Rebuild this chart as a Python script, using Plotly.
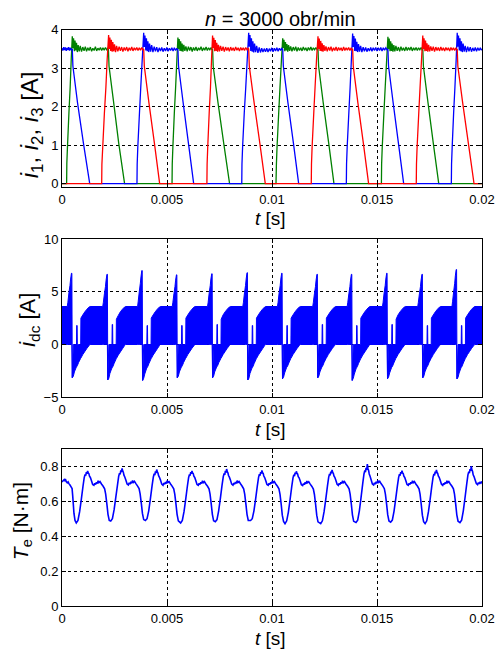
import plotly.graph_objects as go

# ---------------- data ----------------
X_TICKS = [0, 0.005, 0.01, 0.015, 0.02]
X_TICK_TEXT = ["0", "0.005", "0.01", "0.015", "0.02"]
Y1_TICKS = [0, 1, 2, 3, 4]
Y2_TICKS = [-5, 0, 5, 10]
Y3_TICKS = [0, 0.2, 0.4, 0.6, 0.8]
Y3_TICK_TEXT = ["0", "0.2", "0.4", "0.6", "0.8"]

# phase current i2 (green): (t [s], i [A])
GREEN_I = [
    (0.0, 0.0), (0.00022, 0.0),
    (0.00023, 0.52), (0.00026, 0.95), (0.00033, 1.84), (0.00039, 2.52), (0.00044, 3.24), (0.00049, 3.83),
    (0.00052, 3.52), (0.00055, 3.78), (0.00059, 3.44), (0.00062, 3.72), (0.00066, 3.46), (0.00069, 3.66),
    (0.00073, 3.42), (0.00077, 3.6), (0.00082, 3.44), (0.00087, 3.58), (0.00093, 3.43), (0.00099, 3.55),
    (0.00105, 3.45), (0.00111, 3.56), (0.00117, 3.44), (0.00123, 3.53), (0.00129, 3.46), (0.00135, 3.55),
    (0.00141, 3.44), (0.00147, 3.52), (0.00153, 3.46), (0.00159, 3.56), (0.00165, 3.45), (0.00171, 3.52),
    (0.00177, 3.47), (0.00183, 3.54), (0.00189, 3.46), (0.00195, 3.53), (0.00201, 3.47), (0.00207, 3.54),
    (0.00213, 3.48), (0.00218, 3.52), (0.00221, 3.50),
    (0.00224, 3.05), (0.00245, 2.15), (0.00270, 1.05), (0.00298, 0.0),
    (0.00524, 0.0),
    (0.00525, 0.5), (0.00528, 0.95), (0.00535, 1.85), (0.00541, 2.5), (0.00547, 3.22), (0.00552, 3.80),
    (0.00555, 3.5), (0.00558, 3.76), (0.00562, 3.45), (0.00565, 3.7), (0.00569, 3.44), (0.00572, 3.64),
    (0.00576, 3.43), (0.00580, 3.61), (0.00585, 3.45), (0.00590, 3.57), (0.00596, 3.44), (0.00602, 3.56),
    (0.00608, 3.46), (0.00614, 3.55), (0.00620, 3.43), (0.00626, 3.54), (0.00632, 3.46), (0.00638, 3.55),
    (0.00644, 3.45), (0.00650, 3.53), (0.00656, 3.47), (0.00662, 3.56), (0.00668, 3.45), (0.00674, 3.53),
    (0.00680, 3.47), (0.00686, 3.55), (0.00692, 3.46), (0.00698, 3.53), (0.00704, 3.48), (0.00710, 3.54),
    (0.00714, 3.48), (0.00717, 3.50),
    (0.00720, 3.05), (0.00743, 2.1), (0.00770, 1.05), (0.00798, 0.0),
    (0.01019, 0.0),
    (0.01021, 0.5), (0.01024, 0.95), (0.01032, 1.85), (0.01038, 2.5), (0.01045, 3.22), (0.01051, 3.78),
    (0.01054, 3.52), (0.01057, 3.74), (0.01061, 3.44), (0.01064, 3.68), (0.01068, 3.46), (0.01071, 3.63),
    (0.01075, 3.43), (0.01079, 3.6), (0.01084, 3.45), (0.01089, 3.57), (0.01095, 3.44), (0.01101, 3.55),
    (0.01107, 3.46), (0.01113, 3.56), (0.01119, 3.44), (0.01125, 3.54), (0.01131, 3.46), (0.01137, 3.53),
    (0.01143, 3.45), (0.01149, 3.55), (0.01155, 3.47), (0.01161, 3.53), (0.01167, 3.45), (0.01173, 3.54),
    (0.01179, 3.47), (0.01185, 3.55), (0.01191, 3.46), (0.01197, 3.53), (0.01203, 3.48), (0.01209, 3.54),
    (0.01215, 3.48), (0.01219, 3.50),
    (0.01222, 3.05), (0.01244, 2.1), (0.01270, 1.05), (0.01295, 0.0),
    (0.01521, 0.0),
    (0.01522, 0.5), (0.01525, 0.95), (0.01533, 1.85), (0.01539, 2.5), (0.01546, 3.22), (0.01552, 3.82),
    (0.01555, 3.5), (0.01558, 3.77), (0.01562, 3.44), (0.01565, 3.7), (0.01569, 3.45), (0.01572, 3.64),
    (0.01576, 3.43), (0.01580, 3.6), (0.01585, 3.44), (0.01590, 3.58), (0.01596, 3.45), (0.01602, 3.55),
    (0.01608, 3.44), (0.01614, 3.56), (0.01620, 3.46), (0.01626, 3.53), (0.01632, 3.45), (0.01638, 3.55),
    (0.01644, 3.46), (0.01650, 3.54), (0.01656, 3.47), (0.01662, 3.55), (0.01668, 3.45), (0.01674, 3.53),
    (0.01680, 3.47), (0.01686, 3.54), (0.01692, 3.46), (0.01698, 3.53), (0.01704, 3.48), (0.01710, 3.54),
    (0.01715, 3.48), (0.01718, 3.50),
    (0.01721, 3.05), (0.01743, 2.1), (0.01768, 1.05), (0.01794, 0.0),
    (0.02, 0.0),
]

# phase current i3 (red)
RED_I = [
    (0.0, 0.0), (0.00189, 0.0),
    (0.00190, 0.5), (0.00194, 0.95), (0.00202, 1.85), (0.00209, 2.5), (0.00215, 3.22), (0.00222, 3.86),
    (0.00225, 3.5), (0.00228, 3.8), (0.00232, 3.45), (0.00235, 3.74), (0.00239, 3.43), (0.00242, 3.68),
    (0.00246, 3.44), (0.00250, 3.62), (0.00255, 3.42), (0.00260, 3.58), (0.00266, 3.44), (0.00272, 3.56),
    (0.00278, 3.45), (0.00284, 3.55), (0.00290, 3.43), (0.00296, 3.54), (0.00302, 3.46), (0.00308, 3.55),
    (0.00314, 3.44), (0.00320, 3.53), (0.00326, 3.46), (0.00332, 3.55), (0.00338, 3.45), (0.00344, 3.53),
    (0.00350, 3.47), (0.00356, 3.54), (0.00362, 3.46), (0.00368, 3.53), (0.00374, 3.47), (0.00380, 3.54),
    (0.00385, 3.48), (0.00389, 3.50),
    (0.00392, 3.05), (0.00414, 2.1), (0.00440, 1.05), (0.00465, 0.0),
    (0.00690, 0.0),
    (0.00691, 0.5), (0.00694, 0.95), (0.00701, 1.85), (0.00707, 2.5), (0.00712, 3.22), (0.00717, 3.85),
    (0.00720, 3.52), (0.00723, 3.79), (0.00727, 3.44), (0.00730, 3.73), (0.00734, 3.45), (0.00737, 3.66),
    (0.00741, 3.43), (0.00745, 3.61), (0.00750, 3.44), (0.00755, 3.58), (0.00761, 3.45), (0.00767, 3.56),
    (0.00773, 3.43), (0.00779, 3.55), (0.00785, 3.46), (0.00791, 3.54), (0.00797, 3.44), (0.00803, 3.55),
    (0.00809, 3.46), (0.00815, 3.53), (0.00821, 3.45), (0.00827, 3.55), (0.00833, 3.47), (0.00839, 3.53),
    (0.00845, 3.45), (0.00851, 3.54), (0.00857, 3.47), (0.00863, 3.53), (0.00869, 3.46), (0.00875, 3.54),
    (0.00881, 3.48), (0.00886, 3.52), (0.00889, 3.50),
    (0.00892, 3.05), (0.00915, 2.1), (0.00942, 1.05), (0.00968, 0.0),
    (0.01187, 0.0),
    (0.01188, 0.5), (0.01191, 0.95), (0.01199, 1.85), (0.01205, 2.5), (0.01212, 3.22), (0.01219, 3.83),
    (0.01222, 3.5), (0.01225, 3.77), (0.01229, 3.45), (0.01232, 3.71), (0.01236, 3.44), (0.01239, 3.65),
    (0.01243, 3.43), (0.01247, 3.6), (0.01252, 3.45), (0.01257, 3.57), (0.01263, 3.44), (0.01269, 3.55),
    (0.01275, 3.46), (0.01281, 3.56), (0.01287, 3.44), (0.01293, 3.53), (0.01299, 3.46), (0.01305, 3.55),
    (0.01311, 3.45), (0.01317, 3.54), (0.01323, 3.47), (0.01329, 3.53), (0.01335, 3.45), (0.01341, 3.55),
    (0.01347, 3.46), (0.01353, 3.53), (0.01359, 3.47), (0.01365, 3.54), (0.01371, 3.46), (0.01377, 3.53),
    (0.01381, 3.48), (0.01384, 3.50),
    (0.01387, 3.05), (0.01409, 2.1), (0.01435, 1.05), (0.01460, 0.0),
    (0.01687, 0.0),
    (0.01688, 0.5), (0.01691, 0.95), (0.01699, 1.85), (0.01705, 2.5), (0.01712, 3.22), (0.01718, 3.85),
    (0.01721, 3.5), (0.01724, 3.78), (0.01728, 3.44), (0.01731, 3.72), (0.01735, 3.45), (0.01738, 3.65),
    (0.01742, 3.43), (0.01746, 3.61), (0.01751, 3.44), (0.01756, 3.57), (0.01762, 3.45), (0.01768, 3.56),
    (0.01774, 3.43), (0.01780, 3.55), (0.01786, 3.46), (0.01792, 3.54), (0.01798, 3.45), (0.01804, 3.55),
    (0.01810, 3.46), (0.01816, 3.53), (0.01822, 3.45), (0.01828, 3.54), (0.01834, 3.47), (0.01840, 3.53),
    (0.01846, 3.45), (0.01852, 3.54), (0.01858, 3.47), (0.01864, 3.53), (0.01870, 3.46), (0.01876, 3.53),
    (0.01880, 3.48), (0.01882, 3.50),
    (0.01885, 3.05), (0.01908, 2.1), (0.01935, 1.05), (0.01962, 0.0),
    (0.02, 0.0),
]

# phase current i1 (blue)
BLUE_I = [
    (0.0, 3.52), (0.00004, 3.46), (0.00008, 3.55), (0.00012, 3.47), (0.00016, 3.54), (0.00020, 3.45),
    (0.00024, 3.53), (0.00028, 3.47), (0.00032, 3.55), (0.00036, 3.46), (0.00040, 3.53), (0.00044, 3.48),
    (0.00049, 3.50),
    (0.00052, 3.05), (0.00074, 2.1), (0.00102, 1.05), (0.00132, 0.0),
    (0.00357, 0.0),
    (0.00358, 0.5), (0.00361, 0.95), (0.00369, 1.85), (0.00375, 2.5), (0.00382, 3.22), (0.00389, 3.92),
    (0.00392, 3.55), (0.00395, 3.85), (0.00399, 3.46), (0.00402, 3.78), (0.00406, 3.44), (0.00409, 3.7),
    (0.00413, 3.42), (0.00417, 3.64), (0.00422, 3.43), (0.00427, 3.6), (0.00433, 3.42), (0.00439, 3.56),
    (0.00445, 3.44), (0.00451, 3.55), (0.00457, 3.42), (0.00463, 3.53), (0.00469, 3.45), (0.00475, 3.54),
    (0.00481, 3.43), (0.00487, 3.52), (0.00493, 3.45), (0.00499, 3.54), (0.00505, 3.44), (0.00511, 3.52),
    (0.00517, 3.46), (0.00523, 3.53), (0.00529, 3.45), (0.00535, 3.53), (0.00541, 3.46), (0.00547, 3.52),
    (0.00550, 3.48), (0.00552, 3.50),
    (0.00555, 3.05), (0.00577, 2.1), (0.00602, 1.05), (0.00627, 0.0),
    (0.00856, 0.0),
    (0.00857, 0.5), (0.00860, 0.95), (0.00868, 1.85), (0.00875, 2.5), (0.00882, 3.22), (0.00889, 3.92),
    (0.00892, 3.56), (0.00895, 3.86), (0.00899, 3.45), (0.00902, 3.78), (0.00906, 3.43), (0.00909, 3.7),
    (0.00913, 3.41), (0.00917, 3.64), (0.00922, 3.42), (0.00927, 3.58), (0.00933, 3.40), (0.00939, 3.54),
    (0.00945, 3.41), (0.00951, 3.52), (0.00957, 3.42), (0.00963, 3.51), (0.00969, 3.43), (0.00975, 3.52),
    (0.00981, 3.42), (0.00987, 3.51), (0.00993, 3.44), (0.00999, 3.53), (0.01005, 3.43), (0.01011, 3.52),
    (0.01017, 3.45), (0.01023, 3.53), (0.01029, 3.44), (0.01035, 3.52), (0.01041, 3.46), (0.01047, 3.53),
    (0.01049, 3.48), (0.01051, 3.50),
    (0.01054, 3.05), (0.01076, 2.1), (0.01102, 1.05), (0.01127, 0.0),
    (0.01354, 0.0),
    (0.01355, 0.5), (0.01358, 0.95), (0.01366, 1.85), (0.01372, 2.5), (0.01378, 3.22), (0.01384, 3.9),
    (0.01387, 3.55), (0.01390, 3.84), (0.01394, 3.45), (0.01397, 3.77), (0.01401, 3.44), (0.01404, 3.69),
    (0.01408, 3.42), (0.01412, 3.63), (0.01417, 3.43), (0.01422, 3.58), (0.01428, 3.42), (0.01434, 3.55),
    (0.01440, 3.44), (0.01446, 3.54), (0.01452, 3.43), (0.01458, 3.52), (0.01464, 3.45), (0.01470, 3.54),
    (0.01476, 3.44), (0.01482, 3.53), (0.01488, 3.46), (0.01494, 3.54), (0.01500, 3.45), (0.01506, 3.53),
    (0.01512, 3.46), (0.01518, 3.54), (0.01524, 3.45), (0.01530, 3.53), (0.01536, 3.47), (0.01542, 3.53),
    (0.01548, 3.48), (0.01552, 3.50),
    (0.01555, 3.05), (0.01577, 2.1), (0.01602, 1.05), (0.01627, 0.0),
    (0.01854, 0.0),
    (0.01855, 0.5), (0.01858, 0.95), (0.01865, 1.85), (0.01871, 2.5), (0.01877, 3.22), (0.01882, 3.92),
    (0.01885, 3.56), (0.01888, 3.85), (0.01892, 3.46), (0.01895, 3.78), (0.01899, 3.44), (0.01902, 3.7),
    (0.01906, 3.42), (0.01910, 3.64), (0.01915, 3.43), (0.01920, 3.58), (0.01926, 3.42), (0.01932, 3.56),
    (0.01938, 3.44), (0.01944, 3.55), (0.01950, 3.43), (0.01956, 3.53), (0.01962, 3.45), (0.01968, 3.54),
    (0.01974, 3.44), (0.01980, 3.53), (0.01986, 3.46), (0.01992, 3.53), (0.01996, 3.47), (0.02, 3.50),
]

# DC-link current: PWM band, (t [s], lower edge [A], upper edge [A])
IDC_BAND = [
    (0.0, 0, 3.6),
    (0.00025, 0, 3.6), (0.00028, 0, 4.0), (0.00033, 0, 4.9), (0.00038, 0, 5.6), (0.00041, 0, 6.2),
    (0.00045, 0, 6.75), (0.00047, 0, 6.75), (0.00049, -3.15, -3.15), (0.00054, -3.0, 0), (0.00059, -2.6, 0),
    (0.00069, -2.1, 0), (0.00070, -2.1, 1.8), (0.00072, -2.05, 1.8), (0.00073, -2.0, 0), (0.00079, -1.7, 0),
    (0.00089, -1.3, 0), (0.00090, -1.28, 2.5), (0.00099, -0.95, 2.8), (0.00109, -0.65, 3.1),
    (0.00119, -0.35, 3.35), (0.00129, -0.1, 3.55), (0.00134, 0, 3.6),
    (0.00194, 0, 3.6), (0.00197, 0, 4.0), (0.00202, 0, 4.8), (0.00207, 0, 5.5), (0.00210, 0, 6.1),
    (0.00214, 0, 6.65), (0.00216, 0, 6.65), (0.00218, -3.35, -3.35), (0.00223, -3.2, 0), (0.00228, -2.75, 0),
    (0.00238, -2.2, 0), (0.00239, -2.2, 1.9), (0.00241, -2.15, 1.9), (0.00242, -2.1, 0), (0.00248, -1.8, 0),
    (0.00258, -1.35, 0), (0.00259, -1.33, 2.4), (0.00268, -1.0, 2.75), (0.00278, -0.7, 3.1),
    (0.00288, -0.4, 3.35), (0.00298, -0.1, 3.55), (0.00303, 0, 3.6),
    (0.00360, 0, 3.6), (0.00363, 0, 4.1), (0.00368, 0, 5.0), (0.00373, 0, 5.8), (0.00376, 0, 6.4),
    (0.00380, 0, 7.0), (0.00382, 0, 7.0), (0.00384, -3.4, -3.4), (0.00389, -3.2, 0), (0.00394, -2.8, 0),
    (0.00404, -2.2, 0), (0.00405, -2.2, 1.8), (0.00407, -2.15, 1.8), (0.00408, -2.1, 0), (0.00414, -1.8, 0),
    (0.00424, -1.35, 0), (0.00425, -1.33, 2.5), (0.00434, -1.0, 2.8), (0.00444, -0.7, 3.1),
    (0.00454, -0.4, 3.35), (0.00464, -0.1, 3.55), (0.00469, 0, 3.6),
    (0.00525, 0, 3.6), (0.00528, 0, 4.0), (0.00533, 0, 4.8), (0.00538, 0, 5.5), (0.00541, 0, 6.1),
    (0.00545, 0, 6.6), (0.00547, 0, 6.6), (0.00549, -3.15, -3.15), (0.00554, -3.0, 0), (0.00559, -2.6, 0),
    (0.00569, -2.1, 0), (0.00570, -2.1, 1.8), (0.00572, -2.05, 1.8), (0.00573, -2.0, 0), (0.00579, -1.7, 0),
    (0.00589, -1.3, 0), (0.00590, -1.28, 2.5), (0.00599, -0.95, 2.8), (0.00609, -0.65, 3.1),
    (0.00619, -0.35, 3.35), (0.00629, -0.1, 3.55), (0.00634, 0, 3.6),
    (0.00693, 0, 3.6), (0.00696, 0, 4.0), (0.00701, 0, 4.9), (0.00706, 0, 5.6), (0.00709, 0, 6.2),
    (0.00713, 0, 6.7), (0.00715, 0, 6.7), (0.00717, -3.15, -3.15), (0.00722, -3.0, 0), (0.00727, -2.6, 0),
    (0.00737, -2.1, 0), (0.00738, -2.1, 1.9), (0.00740, -2.05, 1.9), (0.00741, -2.0, 0), (0.00747, -1.7, 0),
    (0.00757, -1.3, 0), (0.00758, -1.28, 2.4), (0.00767, -0.95, 2.8), (0.00777, -0.65, 3.1),
    (0.00787, -0.35, 3.35), (0.00797, -0.1, 3.55), (0.00802, 0, 3.6),
    (0.00861, 0, 3.6), (0.00864, 0, 4.0), (0.00869, 0, 4.9), (0.00874, 0, 5.6), (0.00877, 0, 6.2),
    (0.00881, 0, 6.8), (0.00883, 0, 6.8), (0.00885, -3.35, -3.35), (0.00890, -3.2, 0), (0.00895, -2.75, 0),
    (0.00905, -2.2, 0), (0.00906, -2.2, 1.8), (0.00908, -2.15, 1.8), (0.00909, -2.1, 0), (0.00915, -1.8, 0),
    (0.00925, -1.35, 0), (0.00926, -1.33, 2.5), (0.00935, -1.0, 2.8), (0.00945, -0.7, 3.1),
    (0.00955, -0.4, 3.35), (0.00965, -0.1, 3.55), (0.00970, 0, 3.6),
    (0.01026, 0, 3.6), (0.01029, 0, 4.0), (0.01034, 0, 4.9), (0.01039, 0, 5.6), (0.01042, 0, 6.2),
    (0.01046, 0, 6.75), (0.01048, 0, 6.75), (0.01050, -3.25, -3.25), (0.01055, -3.1, 0), (0.01060, -2.7, 0),
    (0.01070, -2.15, 0), (0.01071, -2.15, 1.8), (0.01073, -2.1, 1.8), (0.01074, -2.05, 0), (0.01080, -1.75, 0),
    (0.01090, -1.3, 0), (0.01091, -1.28, 2.5), (0.01100, -0.95, 2.8), (0.01110, -0.65, 3.1),
    (0.01120, -0.35, 3.35), (0.01130, -0.1, 3.55), (0.01135, 0, 3.6),
    (0.01194, 0, 3.6), (0.01197, 0, 4.0), (0.01202, 0, 4.8), (0.01207, 0, 5.5), (0.01210, 0, 6.1),
    (0.01214, 0, 6.65), (0.01216, 0, 6.65), (0.01218, -3.15, -3.15), (0.01223, -3.0, 0), (0.01228, -2.6, 0),
    (0.01238, -2.1, 0), (0.01239, -2.1, 1.9), (0.01241, -2.05, 1.9), (0.01242, -2.0, 0), (0.01248, -1.7, 0),
    (0.01258, -1.3, 0), (0.01259, -1.28, 2.5), (0.01268, -0.95, 2.8), (0.01278, -0.65, 3.1),
    (0.01288, -0.35, 3.35), (0.01298, -0.1, 3.55), (0.01303, 0, 3.6),
    (0.01358, 0, 3.6), (0.01361, 0, 4.0), (0.01366, 0, 4.8), (0.01371, 0, 5.5), (0.01374, 0, 6.1),
    (0.01378, 0, 6.65), (0.01380, 0, 6.65), (0.01382, -3.4, -3.4), (0.01387, -3.2, 0), (0.01392, -2.8, 0),
    (0.01402, -2.2, 0), (0.01403, -2.2, 1.8), (0.01405, -2.15, 1.8), (0.01406, -2.1, 0), (0.01412, -1.8, 0),
    (0.01422, -1.35, 0), (0.01423, -1.33, 2.5), (0.01432, -1.0, 2.8), (0.01442, -0.7, 3.1),
    (0.01452, -0.4, 3.35), (0.01462, -0.1, 3.55), (0.01467, 0, 3.6),
    (0.01526, 0, 3.6), (0.01529, 0, 4.0), (0.01534, 0, 4.9), (0.01539, 0, 5.6), (0.01542, 0, 6.2),
    (0.01546, 0, 6.75), (0.01548, 0, 6.75), (0.01550, -3.25, -3.25), (0.01555, -3.1, 0), (0.01560, -2.7, 0),
    (0.01570, -2.15, 0), (0.01571, -2.15, 1.9), (0.01573, -2.1, 1.9), (0.01574, -2.05, 0), (0.01580, -1.75, 0),
    (0.01590, -1.3, 0), (0.01591, -1.28, 2.4), (0.01600, -0.95, 2.8), (0.01610, -0.65, 3.1),
    (0.01620, -0.35, 3.35), (0.01630, -0.1, 3.55), (0.01635, 0, 3.6),
    (0.01694, 0, 3.6), (0.01697, 0, 4.0), (0.01702, 0, 4.8), (0.01707, 0, 5.5), (0.01710, 0, 6.1),
    (0.01714, 0, 6.65), (0.01716, 0, 6.65), (0.01718, -3.15, -3.15), (0.01723, -3.0, 0), (0.01728, -2.6, 0),
    (0.01738, -2.1, 0), (0.01739, -2.1, 1.8), (0.01741, -2.05, 1.8), (0.01742, -2.0, 0), (0.01748, -1.7, 0),
    (0.01758, -1.3, 0), (0.01759, -1.28, 2.5), (0.01768, -0.95, 2.8), (0.01778, -0.65, 3.1),
    (0.01788, -0.35, 3.35), (0.01798, -0.1, 3.55), (0.01803, 0, 3.6),
    (0.01857, 0, 3.6), (0.01860, 0, 4.1), (0.01865, 0, 5.0), (0.01870, 0, 5.8), (0.01873, 0, 6.5),
    (0.01877, 0, 7.1), (0.01879, 0, 7.1), (0.01881, -3.25, -3.25), (0.01886, -3.1, 0), (0.01891, -2.7, 0),
    (0.01901, -2.15, 0), (0.01902, -2.15, 1.8), (0.01904, -2.1, 1.8), (0.01905, -2.05, 0), (0.01911, -1.75, 0),
    (0.01921, -1.3, 0), (0.01922, -1.28, 2.5), (0.01931, -0.95, 2.8), (0.01941, -0.65, 3.1),
    (0.01951, -0.35, 3.35), (0.01961, -0.1, 3.55), (0.01966, 0, 3.6),
    (0.02, 0, 3.6),
]

# electromagnetic torque Te: (t [s], Te [N·m])
TORQUE = [
    (0.0, 0.709), (5e-5, 0.716), (10e-5, 0.722), (13e-5, 0.714), (16e-5, 0.727), (20e-5, 0.712),
    (25e-5, 0.705), (29e-5, 0.71), (33e-5, 0.70), (38e-5, 0.692), (44e-5, 0.68), (48e-5, 0.672),
    (51e-5, 0.63), (54e-5, 0.58), (57e-5, 0.53), (62e-5, 0.49),
    (68e-5, 0.476), (76e-5, 0.49), (84e-5, 0.54), (92e-5, 0.61), (100e-5, 0.685), (106e-5, 0.735),
    (110e-5, 0.752), (113e-5, 0.745), (116e-5, 0.765), (119e-5, 0.756), (122e-5, 0.772), (125e-5, 0.76),
    (128e-5, 0.757), (131e-5, 0.742), (135e-5, 0.735), (140e-5, 0.718), (146e-5, 0.695), (152e-5, 0.69),
    (156e-5, 0.702), (160e-5, 0.695), (164e-5, 0.708), (168e-5, 0.70), (172e-5, 0.716), (176e-5, 0.706),
    (181e-5, 0.712), (188e-5, 0.698), (196e-5, 0.685), (203e-5, 0.67), (208e-5, 0.64), (214e-5, 0.58),
    (219e-5, 0.525), (225e-5, 0.49),
    (232e-5, 0.487), (240e-5, 0.5), (248e-5, 0.55), (256e-5, 0.62), (264e-5, 0.69), (270e-5, 0.742),
    (274e-5, 0.76), (277e-5, 0.752), (280e-5, 0.775), (283e-5, 0.765), (286e-5, 0.787), (289e-5, 0.772),
    (292e-5, 0.765), (295e-5, 0.748), (299e-5, 0.738), (304e-5, 0.72), (310e-5, 0.698), (316e-5, 0.692),
    (320e-5, 0.705), (324e-5, 0.697), (328e-5, 0.71), (332e-5, 0.702), (336e-5, 0.718), (340e-5, 0.707),
    (345e-5, 0.713), (352e-5, 0.7), (360e-5, 0.686), (367e-5, 0.672), (372e-5, 0.642), (378e-5, 0.585),
    (383e-5, 0.53), (389e-5, 0.495),
    (397e-5, 0.49), (405e-5, 0.5), (413e-5, 0.545), (421e-5, 0.615), (429e-5, 0.688), (435e-5, 0.738),
    (439e-5, 0.756), (442e-5, 0.748), (445e-5, 0.77), (448e-5, 0.76), (451e-5, 0.78), (454e-5, 0.766),
    (457e-5, 0.76), (460e-5, 0.745), (464e-5, 0.736), (469e-5, 0.72), (475e-5, 0.697), (481e-5, 0.69),
    (485e-5, 0.703), (489e-5, 0.696), (493e-5, 0.709), (497e-5, 0.7), (501e-5, 0.717), (505e-5, 0.706),
    (510e-5, 0.711), (517e-5, 0.698), (525e-5, 0.684), (532e-5, 0.67), (537e-5, 0.64), (543e-5, 0.58),
    (548e-5, 0.525), (554e-5, 0.488),
    (565e-5, 0.476), (573e-5, 0.49), (581e-5, 0.54), (589e-5, 0.61), (597e-5, 0.685), (603e-5, 0.735),
    (607e-5, 0.752), (610e-5, 0.745), (613e-5, 0.765), (616e-5, 0.756), (619e-5, 0.772), (622e-5, 0.76),
    (625e-5, 0.757), (628e-5, 0.742), (632e-5, 0.735), (637e-5, 0.718), (643e-5, 0.695), (649e-5, 0.69),
    (653e-5, 0.702), (657e-5, 0.695), (661e-5, 0.708), (665e-5, 0.70), (669e-5, 0.716), (673e-5, 0.706),
    (678e-5, 0.712), (685e-5, 0.698), (693e-5, 0.685), (700e-5, 0.67), (705e-5, 0.64), (711e-5, 0.58),
    (716e-5, 0.525), (722e-5, 0.488),
    (730e-5, 0.483), (738e-5, 0.495), (746e-5, 0.545), (754e-5, 0.615), (762e-5, 0.69), (768e-5, 0.74),
    (772e-5, 0.758), (775e-5, 0.75), (778e-5, 0.772), (781e-5, 0.762), (784e-5, 0.783), (787e-5, 0.768),
    (790e-5, 0.762), (793e-5, 0.746), (797e-5, 0.737), (802e-5, 0.72), (808e-5, 0.697), (814e-5, 0.691),
    (818e-5, 0.703), (822e-5, 0.696), (826e-5, 0.709), (830e-5, 0.701), (834e-5, 0.717), (838e-5, 0.707),
    (843e-5, 0.712), (850e-5, 0.699), (858e-5, 0.685), (865e-5, 0.67), (870e-5, 0.64), (876e-5, 0.58),
    (881e-5, 0.525), (887e-5, 0.49),
    (898e-5, 0.49), (906e-5, 0.5), (914e-5, 0.545), (922e-5, 0.612), (930e-5, 0.686), (936e-5, 0.736),
    (940e-5, 0.753), (943e-5, 0.746), (946e-5, 0.766), (949e-5, 0.757), (952e-5, 0.775), (955e-5, 0.762),
    (958e-5, 0.758), (961e-5, 0.743), (965e-5, 0.735), (970e-5, 0.718), (976e-5, 0.695), (982e-5, 0.69),
    (986e-5, 0.702), (990e-5, 0.695), (994e-5, 0.708), (998e-5, 0.70), (1002e-5, 0.716), (1006e-5, 0.706),
    (1011e-5, 0.712), (1018e-5, 0.698), (1026e-5, 0.685), (1033e-5, 0.67), (1038e-5, 0.64), (1044e-5, 0.58),
    (1049e-5, 0.52), (1055e-5, 0.485),
    (1062e-5, 0.472), (1070e-5, 0.488), (1078e-5, 0.538), (1086e-5, 0.608), (1094e-5, 0.683), (1100e-5, 0.733),
    (1104e-5, 0.75), (1107e-5, 0.743), (1110e-5, 0.762), (1113e-5, 0.754), (1116e-5, 0.77), (1119e-5, 0.758),
    (1122e-5, 0.755), (1125e-5, 0.74), (1129e-5, 0.733), (1134e-5, 0.716), (1140e-5, 0.694), (1146e-5, 0.689),
    (1150e-5, 0.701), (1154e-5, 0.694), (1158e-5, 0.707), (1162e-5, 0.699), (1166e-5, 0.715), (1170e-5, 0.705),
    (1175e-5, 0.711), (1182e-5, 0.697), (1190e-5, 0.684), (1197e-5, 0.669), (1202e-5, 0.638), (1208e-5, 0.578),
    (1213e-5, 0.52), (1219e-5, 0.482),
    (1232e-5, 0.472), (1240e-5, 0.488), (1248e-5, 0.54), (1256e-5, 0.61), (1264e-5, 0.686), (1270e-5, 0.737),
    (1274e-5, 0.755), (1277e-5, 0.747), (1280e-5, 0.768), (1283e-5, 0.758), (1286e-5, 0.778), (1289e-5, 0.764),
    (1292e-5, 0.759), (1295e-5, 0.744), (1299e-5, 0.736), (1304e-5, 0.719), (1310e-5, 0.696), (1316e-5, 0.69),
    (1320e-5, 0.702), (1324e-5, 0.695), (1328e-5, 0.708), (1332e-5, 0.70), (1336e-5, 0.716), (1340e-5, 0.706),
    (1345e-5, 0.712), (1352e-5, 0.698), (1360e-5, 0.685), (1367e-5, 0.67), (1372e-5, 0.64), (1378e-5, 0.58),
    (1383e-5, 0.522), (1389e-5, 0.485),
    (1400e-5, 0.478), (1408e-5, 0.492), (1416e-5, 0.545), (1424e-5, 0.62), (1432e-5, 0.7), (1438e-5, 0.755),
    (1442e-5, 0.775), (1445e-5, 0.765), (1448e-5, 0.79), (1451e-5, 0.778), (1454e-5, 0.811), (1457e-5, 0.785),
    (1460e-5, 0.775), (1463e-5, 0.755), (1467e-5, 0.742), (1472e-5, 0.722), (1478e-5, 0.698), (1484e-5, 0.692),
    (1488e-5, 0.704), (1492e-5, 0.697), (1496e-5, 0.71), (1500e-5, 0.702), (1504e-5, 0.718), (1508e-5, 0.707),
    (1513e-5, 0.713), (1520e-5, 0.699), (1528e-5, 0.686), (1535e-5, 0.671), (1540e-5, 0.64), (1546e-5, 0.58),
    (1551e-5, 0.523), (1557e-5, 0.487),
    (1565e-5, 0.48), (1573e-5, 0.492), (1581e-5, 0.542), (1589e-5, 0.611), (1597e-5, 0.686), (1603e-5, 0.736),
    (1607e-5, 0.753), (1610e-5, 0.745), (1613e-5, 0.766), (1616e-5, 0.757), (1619e-5, 0.774), (1622e-5, 0.761),
    (1625e-5, 0.757), (1628e-5, 0.742), (1632e-5, 0.735), (1637e-5, 0.718), (1643e-5, 0.695), (1649e-5, 0.69),
    (1653e-5, 0.702), (1657e-5, 0.695), (1661e-5, 0.708), (1665e-5, 0.70), (1669e-5, 0.716), (1673e-5, 0.706),
    (1678e-5, 0.712), (1685e-5, 0.698), (1693e-5, 0.685), (1700e-5, 0.67), (1705e-5, 0.64), (1711e-5, 0.578),
    (1716e-5, 0.52), (1722e-5, 0.483),
    (1729e-5, 0.472), (1737e-5, 0.488), (1745e-5, 0.54), (1753e-5, 0.61), (1761e-5, 0.686), (1767e-5, 0.737),
    (1771e-5, 0.755), (1774e-5, 0.747), (1777e-5, 0.768), (1780e-5, 0.758), (1783e-5, 0.778), (1786e-5, 0.764),
    (1789e-5, 0.759), (1792e-5, 0.744), (1796e-5, 0.736), (1801e-5, 0.719), (1807e-5, 0.696), (1813e-5, 0.69),
    (1817e-5, 0.702), (1821e-5, 0.695), (1825e-5, 0.708), (1829e-5, 0.70), (1833e-5, 0.716), (1837e-5, 0.706),
    (1842e-5, 0.712), (1849e-5, 0.698), (1857e-5, 0.685), (1864e-5, 0.67), (1869e-5, 0.64), (1875e-5, 0.58),
    (1880e-5, 0.522), (1886e-5, 0.486),
    (1895e-5, 0.478), (1903e-5, 0.492), (1911e-5, 0.545), (1919e-5, 0.618), (1927e-5, 0.696), (1933e-5, 0.75),
    (1937e-5, 0.768), (1940e-5, 0.76), (1943e-5, 0.783), (1946e-5, 0.772), (1949e-5, 0.80), (1952e-5, 0.778),
    (1955e-5, 0.77), (1958e-5, 0.75), (1962e-5, 0.74), (1967e-5, 0.722), (1973e-5, 0.7), (1979e-5, 0.694),
    (1983e-5, 0.706), (1987e-5, 0.698), (1991e-5, 0.71), (1995e-5, 0.703), (2000e-5, 0.713),
]

# ---------------- figure ----------------
W, H = 503, 665
FONT = "Liberation Sans, Arial, Helvetica, sans-serif"


def col(rows, k):
    return [r[k] for r in rows]


fig = go.Figure()

for pts, color in ((GREEN_I, "#008000"), (BLUE_I, "#0000FF"), (RED_I, "#FF0000")):
    fig.add_trace(go.Scatter(x=col(pts, 0), y=col(pts, 1), mode="lines",
                             line=dict(color=color, width=1.3, simplify=False),
                             xaxis="x", yaxis="y", hoverinfo="skip"))

fig.add_trace(go.Scatter(x=col(IDC_BAND, 0), y=col(IDC_BAND, 1), mode="lines",
                         line=dict(color="#0000FF", width=1, simplify=False),
                         xaxis="x2", yaxis="y2", hoverinfo="skip"))
fig.add_trace(go.Scatter(x=col(IDC_BAND, 0), y=col(IDC_BAND, 2), mode="lines",
                         line=dict(color="#0000FF", width=1, simplify=False),
                         fill="tonexty", fillcolor="#0000FF",
                         xaxis="x2", yaxis="y2", hoverinfo="skip"))

fig.add_trace(go.Scatter(x=col(TORQUE, 0), y=col(TORQUE, 1), mode="lines",
                         line=dict(color="#0000FF", width=1.6, simplify=False),
                         xaxis="x3", yaxis="y3", hoverinfo="skip"))

axis_common = dict(showline=True, linecolor="black", linewidth=1, mirror="ticks",
                   ticks="inside", ticklen=4, tickcolor="black",
                   showgrid=True, gridcolor="black", gridwidth=1, griddash="3px,3px",
                   zeroline=False, tickfont=dict(family=FONT, size=13, color="black"))

L, R = 62, 21
PW = W - L - R


def py(p):
    return 1 - p / H


def pxx(p):
    return (p - L) / PW


xcommon = dict(axis_common, range=[0, 0.02], tickvals=X_TICKS, ticktext=X_TICK_TEXT)

fig.update_layout(
    width=W, height=H, margin=dict(l=L, r=R, t=0, b=0),
    paper_bgcolor="white", plot_bgcolor="white", showlegend=False,
    xaxis=dict(xcommon, domain=[0, 1], anchor="y"),
    yaxis=dict(axis_common, domain=[py(184.3), py(23.3)], anchor="x",
               range=[-0.094, 4.0], tickvals=Y1_TICKS),
    xaxis2=dict(xcommon, domain=[0, 1], anchor="y2"),
    yaxis2=dict(axis_common, domain=[py(399.3), py(237.3)], anchor="x2",
                range=[-5, 10], tickvals=Y2_TICKS),
    xaxis3=dict(xcommon, domain=[0, 1], anchor="y3"),
    yaxis3=dict(axis_common, domain=[py(613.3), py(451.7)], anchor="x3",
                range=[0, 0.9], tickvals=Y3_TICKS, ticktext=Y3_TICK_TEXT),
)

annots = [
    ("<i>n</i> = 3000 obr/min", 280, 12, 0, 20),
    ("<i>t</i> [s]", 270, 216, 0, 19),
    ("<i>t</i> [s]", 270, 432, 0, 19),
    ("<i>t</i> [s]", 270, 646, 0, 19),
    ("<i>i</i><sub>1</sub>, <i>i</i><sub>2</sub>, <i>i</i><sub>3</sub> [A]", 31, 121, -90, 24),
    ("<i>i</i><sub>dc</sub> [A]", 29, 320, -90, 22),
    ("<i>T</i><sub>e</sub> [N·m]", 22, 526, -90, 21),
]
for text, x, y, ang, size in annots:
    fig.add_annotation(text=text, xref="paper", yref="paper",
                       x=pxx(x), y=py(y), xanchor="center", yanchor="middle",
                       showarrow=False, textangle=ang,
                       font=dict(family=FONT, size=size, color="black"))

fig.write_html("out.html", config={"displayModeBar": False},
               post_script="document.body.style.margin='0px';")
